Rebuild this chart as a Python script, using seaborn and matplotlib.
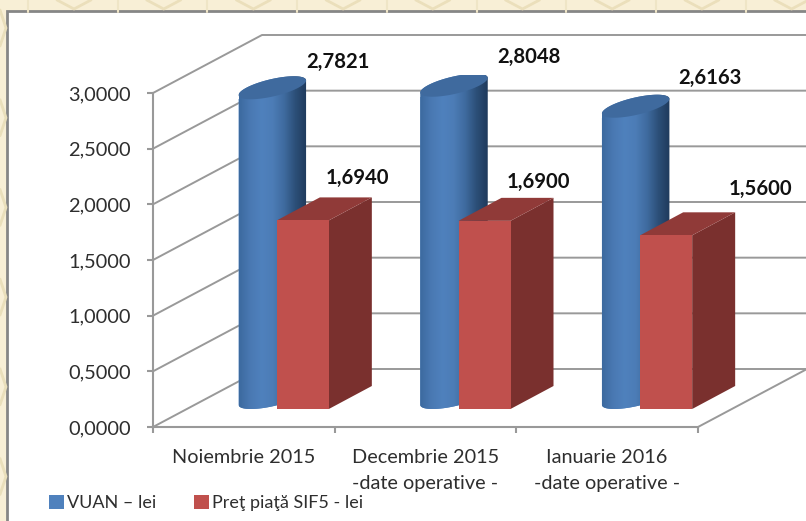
import numpy as np
import pandas as pd
import matplotlib
matplotlib.use("Agg")
import matplotlib.pyplot as plt
from matplotlib.colors import LinearSegmentedColormap
from matplotlib.patches import Polygon, Rectangle
import seaborn as sns

categories = ["Noiembrie 2015", "Decembrie 2015\n-date operative -", "Ianuarie 2016\n-date operative -"]
series_names = ["VUAN – lei", "Preţ piaţă SIF5 - lei"]
vuan = [2.7821, 2.8048, 2.6163]
pret = [1.6940, 1.6900, 1.5600]
y_ticks = [0, 0.5, 1.0, 1.5, 2.0, 2.5, 3.0]

W, H = 806, 521
sns.set_theme(style="white")
plt.rcParams['font.family'] = ['Lato', 'DejaVu Sans']
fig = plt.figure(figsize=(W / 100, H / 100), dpi=100)

# page background and chart frame, in pixels
bg = fig.add_axes([0, 0, 1, 1], zorder=0)
bg.set_xlim(0, W); bg.set_ylim(H, 0); bg.axis("off")
bg.add_patch(Rectangle((0, 0), W, H, fc="#f8efd6", ec="none"))
for x in np.arange(28, W, 89.7):
    bg.plot([x, x], [0, 12], color="#efe5c6", lw=1.5)
    bg.plot([x + 29, x + 46, x + 63], [0, 9, 0], color="#ebdfbb", lw=2)
for y in np.arange(-10, H, 89.7):
    bg.plot([0, 6, 0], [y + 20, y + 38, y + 56], color="#eadfbb", lw=2)
bg.add_patch(Rectangle((6.5, 11), W + 20, H + 20, fc="white", ec="#868686", lw=2))

# axes: floor front edge
X0, Y0, AW, AH = 153, 427, 545, 334
ax = fig.add_axes([X0 / W, (H - Y0) / H, AW / W, AH / H], zorder=1)
ax.patch.set_alpha(0)
ax.set_xlim(-0.5, 2.5); ax.set_ylim(0, 3)
grid = "#999999"
dep_x, dep_y = 109 / (AW / 3), 58 / (AH / 3)
for v in y_ticks:
    ax.plot([-0.5, -0.5 + dep_x, 2.5 + dep_x + 0.02], [v, v + dep_y, v + dep_y],
            color=grid, lw=1.4, clip_on=False, zorder=1)
ax.plot([2.5, 2.5 + dep_x], [0, dep_y], color=grid, lw=1.4, clip_on=False, zorder=1)
for s in ["top", "right"]:
    ax.spines[s].set_visible(False)
for s in ["left", "bottom"]:
    ax.spines[s].set_color(grid); ax.spines[s].set_linewidth(1.5)
ax.set_yticks(y_ticks)
ax.set_yticklabels([f"{v:.4f}".replace(".", ",") for v in y_ticks], fontsize=14.4, color="#2e2e2e")
ax.set_xticks([-0.5, 0.5, 1.5, 2.5]); ax.set_xticklabels([])
ax.set_xticks([0, 1, 2], minor=True)
ax.set_xticklabels(categories, minor=True, fontsize=14.3, color="#2e2e2e", linespacing=1.7)
ax.tick_params(axis="both", which="major", length=4.5, width=1.5, color=grid, left=True, bottom=True)
ax.tick_params(axis="y", pad=11.5)
ax.tick_params(axis="x", which="minor", length=0, pad=15.5)

# bars stand on a plane set back from the floor's front edge
bx = fig.add_axes([(X0 + 33) / W, (H - 409) / H, AW / W, AH / H], zorder=2)
df = pd.DataFrame({
    "cat": categories * 2,
    "val": vuan + pret,
    "serie": [series_names[0]] * 3 + [series_names[1]] * 3,
})
sns.barplot(data=df, x="cat", y="val", hue="serie", order=categories, hue_order=series_names,
            palette=["#4f81bd", "#c0504d"], saturation=1, width=0.5725, gap=0, ax=bx, zorder=4,
            linewidth=0, edgecolor="none")
handles, labels = bx.get_legend_handles_labels()
bx.get_legend().remove()
bx.patch.set_alpha(0)
bx.axis("off")
bx.set_xlim(-0.5, 2.5); bx.set_ylim(0, 3)

blue_bars, red_bars = bx.containers[0], bx.containers[1]
cyl_cmap = LinearSegmentedColormap.from_list(
    "cyl", ["#3c6a9f", "#4a79b3", "#4f81bd", "#4c7cb6", "#3f6b9f", "#2c4f78", "#1f3a5c"])
top_d = (43 / (AW / 3), 23 / (AH / 3))
for patch in blue_bars:
    l, w, h = patch.get_x(), patch.get_width(), patch.get_height()
    ux, vx, vy = w / 2, top_d[0] / 2, top_d[1] / 2
    cx, cy = l + ux + vx, vy
    t0 = np.arctan2(vx, ux)
    tb = np.linspace(t0 - np.pi, t0, 60)
    tt = np.linspace(t0, t0 + np.pi, 60)
    xs = np.r_[cx + ux * np.cos(tb) + vx * np.sin(tb), cx + ux * np.cos(tt) + vx * np.sin(tt)]
    ys = np.r_[cy + vy * np.sin(tb), cy + h + vy * np.sin(tt)]
    outline = Polygon(np.c_[xs, ys], closed=True, transform=bx.transData, fc="none", ec="none")
    bx.add_patch(outline)
    patch.set_clip_path(outline)
    im = bx.imshow(np.linspace(0, 1, 128)[None, :], cmap=cyl_cmap, aspect="auto",
                   extent=(xs.min(), xs.max(), 0, cy + h + vy), zorder=2, clip_on=True)
    im.set_clip_path(outline)
    patch.set_zorder(1.5)
    t = np.linspace(0, 2 * np.pi, 120)
    bx.add_patch(Polygon(np.c_[cx + ux * np.cos(t) + vx * np.sin(t), cy + h + vy * np.sin(t)],
                         closed=True, fc="#3f6a9e", ec="none", zorder=2.5))
for patch in red_bars:
    l, w, h = patch.get_x(), patch.get_width(), patch.get_height()
    r = l + w
    dx, dy = top_d
    bx.add_patch(Polygon([(r, 0), (r + dx, dy), (r + dx, h + dy), (r, h)], closed=True,
                         fc="#7a302e", ec="none", zorder=3, clip_on=False))
    bx.add_patch(Polygon([(l, h), (r, h), (r + dx, h + dy), (l + dx, h + dy)], closed=True,
                         fc="#903a38", ec="none", zorder=3, clip_on=False))
bx.set_xlim(-0.5, 2.5); bx.set_ylim(0, 3)

# data labels anchored on each bar's value
blue_off = [(87, 37), (96, 40), (95.5, 40)]
red_off = [(55, 42.5), (54, 39), (94, 46)]
for bars, vals, offs in [(blue_bars, vuan, blue_off), (red_bars, pret, red_off)]:
    for patch, v, o in zip(bars, vals, offs):
        bx.annotate(f"{v:.4f}".replace(".", ","),
                    xy=(patch.get_x() + patch.get_width() / 2, v), xytext=o,
                    textcoords="offset pixels", ha="center", va="center",
                    fontsize=14.6, fontweight="bold", color="#111111", annotation_clip=False, zorder=6)

leg = fig.legend(handles, labels, loc="center left", bbox_to_anchor=(40 / W, (H - 503) / H),
                 ncol=2, frameon=False, fontsize=13, handlelength=0.85, handleheight=0.85,
                 handletextpad=0.13, columnspacing=2.1, labelcolor="#2e2e2e", borderpad=0)
fig.savefig("out.png", dpi=100)
